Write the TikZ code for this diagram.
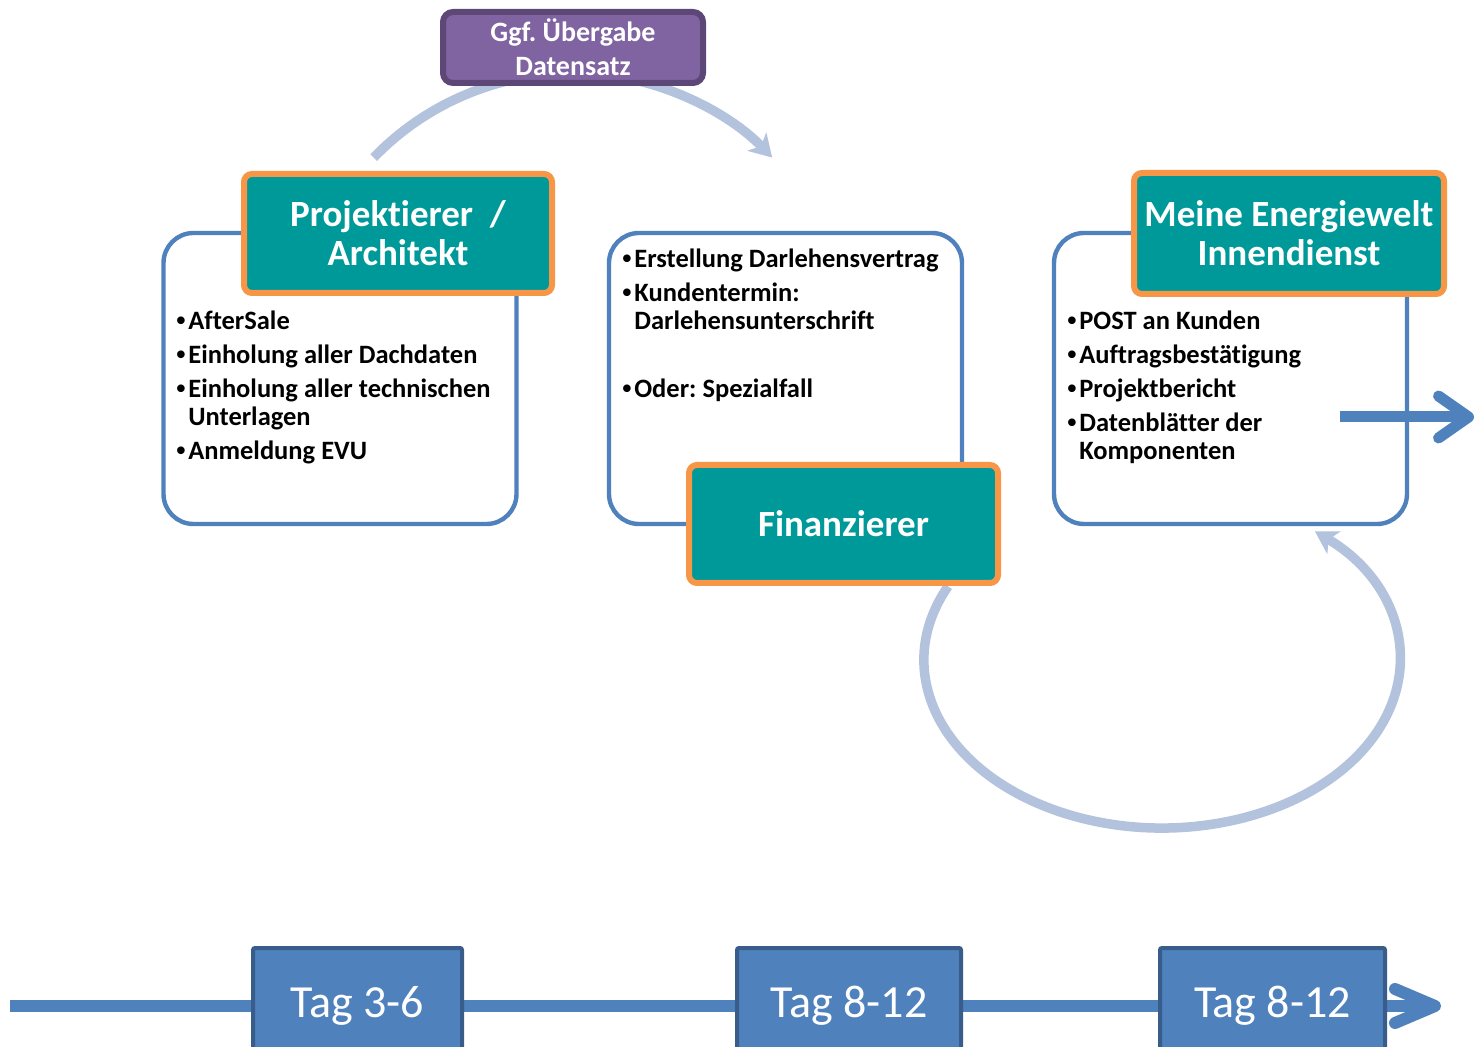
\documentclass[tikz,border=0pt]{standalone}
\usepackage{fontspec}
\setmainfont{Carlito}[Ligatures=NoCommon]
\newfontfamily\bulfont{Liberation Sans}
\newcommand\bul{\makebox[0.45em][l]{\bulfont\textbullet}}
\frenchspacing
\usetikzlibrary{arrows.meta}
\definecolor{LineClr}{RGB}{79,129,189}
\definecolor{TealClr}{RGB}{0,153,153}
\definecolor{OrangeClr}{RGB}{247,150,70}
\definecolor{PurpleClr}{RGB}{128,100,162}
\definecolor{PurpleEdgeClr}{RGB}{92,71,118}
\definecolor{ArcClr}{RGB}{179,194,221}
\definecolor{TagEdgeClr}{RGB}{56,93,138}

\begin{document}
\begin{tikzpicture}[x=0.5pt,y=0.5pt,
  listbox/.style={draw=LineClr,line width=2.2pt,fill=white,rounded corners=15pt,
    minimum width=176.5pt,minimum height=145.5pt,inner sep=0pt},
  rolebox/.style={draw=OrangeClr,line width=3pt,fill=TealClr,rounded corners=4pt,
    text=white,font=\bfseries\fontsize{18.5pt}{19.5pt}\selectfont,align=center,inner sep=0pt},
  listtext/.style={anchor=north west,inner sep=0pt,align=left,
    font=\bfseries\fontsize{13.25pt}{14pt}\selectfont},
  tagbox/.style={draw=TagEdgeClr,line width=2pt,fill=LineClr,rounded corners=1pt,
    text=white,font=\fontsize{23pt}{27pt}\selectfont,minimum height=58pt,inner sep=0pt},
  flow/.style={draw=ArcClr,line width=4.75pt,-{Stealth[length=11pt,width=13pt,inset=3pt]}}]
\useasboundingbox (0,0) rectangle (1479,-1047);
\clip (0,0) rectangle (1479,-1047);

\coordinate (handoff) at (373.7,-157.6);
\coordinate (loopstart) at (948,-586.4);
\draw[flow] (handoff) arc[start angle=136,end angle=44,radius=277];
\draw[flow] (loopstart) arc[start angle=154,end angle=410,x radius=238,y radius=168];

\coordinate (tlstart) at (10,-1006);
\coordinate (tlend) at (1441,-1006);
\draw[draw=LineClr,line width=6pt,-{Straight Barb[length=20pt,width=17pt,round]}] (tlstart) -- (tlend);

\node[listbox] (plannerlist) at (340,-378.5) {};
\node[listbox] (financelist) at (785.5,-378.5) {};
\node[listbox] (officelist) at (1230.5,-378.5) {};

\node[listtext] (plannertext) at (176,-311) {\bul AfterSale\\[3pt]
  \bul Einholung aller Dachdaten\\[3pt]
  \bul Einholung aller technischen\\\hphantom{\bul}Unterlagen\\[3pt]
  \bul Anmeldung EVU};
\node[listtext] (financetext) at (622,-249) {\bul Erstellung Darlehensvertrag\\[3pt]
  \bul Kundentermin:\\\hphantom{\bul}Darlehensunterschrift\\[3pt]
  \mbox{}\\[3pt]
  \bul Oder: Spezialfall};
\node[listtext] (officetext) at (1067,-311) {\bul POST an Kunden\\[3pt]
  \bul Auftragsbestätigung\\[3pt]
  \bul Projektbericht\\[3pt]
  \bul Datenblätter der\\\hphantom{\bul}Komponenten};

\node[rolebox,minimum width=154pt,minimum height=59.5pt] (planner) at (398,-233.5) {Projektierer\ \ /\\Architekt};
\node[rolebox,minimum width=154.5pt,minimum height=59pt] (financer) at (843.5,-524) {Finanzierer};
\node[rolebox,minimum width=155pt,minimum height=60.5pt] (office) at (1289,-233.5) {Meine Energiewelt\\Innendienst};

\node[draw=PurpleEdgeClr,line width=3pt,fill=PurpleClr,rounded corners=5pt,text=white,
  font=\bfseries\fontsize{14pt}{17pt}\selectfont,align=center,
  minimum width=130pt,minimum height=35.5pt,inner sep=0pt] (handover) at (573,-47.5) {Ggf. Übergabe\\Datensatz};

\coordinate (outstart) at (1340,-417);
\coordinate (outend) at (1474,-417);
\draw[draw=LineClr,line width=5.5pt,-{Straight Barb[length=15pt,width=21pt,round]}] (outstart) -- (outend);

\node[tagbox,minimum width=104.5pt] (tag1) at (357.5,-1006) {Tag 3-6};
\node[tagbox,minimum width=112pt] (tag2) at (849,-1006) {Tag 8-12};
\node[tagbox,minimum width=112.5pt] (tag3) at (1272.5,-1006) {Tag 8-12};

\end{tikzpicture}
\end{document}
